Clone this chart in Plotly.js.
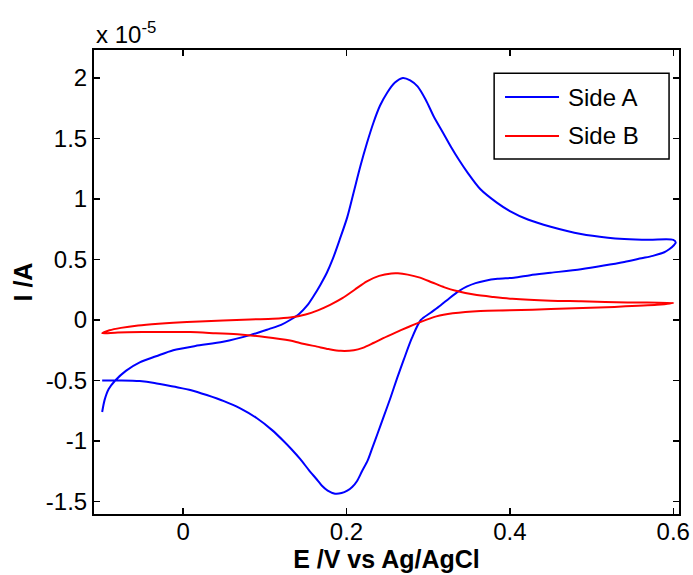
<!DOCTYPE html>
<html>
<head>
<meta charset="utf-8">
<script src="https://cdn.plot.ly/plotly-3.0.1.min.js"></script>
<style>html,body{margin:0;padding:0;background:#fff;}#chart{width:693px;height:575px;}</style>
</head>
<body>
<div id="chart"></div>
<script>
// Current values are in units of 1e-5 A
const Y_SCALE = 1e-5;

const sideA_E = [
 -0.099,-0.096,-0.091,-0.083,-0.070,-0.053,-0.033,-0.012,0.015,0.049,0.082,0.105,0.120,0.131,0.142,0.152,0.160,0.168,0.176,0.183,
 0.192,0.201,0.209,0.217,0.225,0.233,0.241,0.250,0.259,0.269,0.278,0.287,0.297,0.307,0.318,0.328,0.338,0.348,0.364,0.384,
 0.400,0.422,0.450,0.487,0.520,0.540,0.570,0.600,
 0.603,0.601,0.595,0.589,0.575,0.561,0.540,0.515,0.487,0.450,0.425,0.405,0.385,0.370,0.358,0.347,0.338,0.326,0.315,0.303,0.291,
 0.280,0.270,0.262,0.254,0.246,0.238,0.232,0.226,0.219,0.213,0.207,0.201,0.194,0.186,0.177,0.170,0.164,0.154,0.1435,0.133,
 0.123,0.109,0.090,0.070,0.050,0.029,0.010,-0.012,-0.035,-0.053,-0.075,-0.099
];
const sideA_I = [
 -0.76,-0.66,-0.57,-0.50,-0.42,-0.35,-0.30,-0.25,-0.215,-0.18,-0.125,-0.075,-0.04,0.00,0.05,0.12,0.20,0.29,0.39,0.50,
 0.67,0.85,1.06,1.27,1.46,1.63,1.77,1.88,1.96,2.00,1.98,1.93,1.82,1.68,1.55,1.43,1.32,1.22,1.08,0.97,
 0.90,0.83,0.77,0.71,0.68,0.67,0.663,0.662,
 0.64,0.62,0.585,0.56,0.53,0.51,0.48,0.45,0.42,0.39,0.37,0.35,0.34,0.325,0.305,0.275,0.24,0.18,0.12,0.06,0.00,
 -0.15,-0.33,-0.48,-0.64,-0.79,-0.94,-1.05,-1.16,-1.25,-1.33,-1.38,-1.41,-1.43,-1.435,-1.41,-1.37,-1.32,-1.24,-1.15,-1.07,
 -1.00,-0.91,-0.81,-0.73,-0.67,-0.62,-0.58,-0.55,-0.52,-0.505,-0.50,-0.50
];

const sideB_E = [
 -0.099,-0.090,-0.076,-0.055,-0.030,-0.012,0.020,0.049,0.082,0.110,0.131,0.150,0.165,0.180,0.195,0.210,0.225,0.240,0.255,0.263,
 0.275,0.290,0.305,0.320,0.335,0.356,0.380,0.403,0.450,0.487,0.544,0.600,
 0.580,0.528,0.450,0.400,0.364,0.330,0.310,0.291,0.275,0.258,0.245,0.233,0.220,0.209,0.193,0.178,0.164,0.143,0.131,0.100,
 0.070,0.040,0.009,-0.012,-0.050,-0.080,-0.099
];
const sideB_I = [
 -0.11,-0.085,-0.065,-0.045,-0.03,-0.022,-0.012,-0.005,0.005,0.01,0.02,0.045,0.08,0.125,0.18,0.25,0.32,0.365,0.385,0.386,
 0.375,0.35,0.31,0.27,0.24,0.21,0.19,0.175,0.16,0.155,0.145,0.14,
 0.125,0.108,0.09,0.08,0.075,0.055,0.03,-0.015,-0.06,-0.11,-0.15,-0.19,-0.23,-0.25,-0.255,-0.24,-0.22,-0.19,-0.17,-0.14,
 -0.12,-0.11,-0.10,-0.10,-0.10,-0.103,-0.11
];

const seriesNames = ['Side A', 'Side B'];
const seriesColors = ['#0000FF', '#FF0000'];

const xTickVals = [0, 0.2, 0.4, 0.6];
const xTickText = ['0', '0.2', '0.4', '0.6'];
const yTickVals = [-1.5, -1, -0.5, 0, 0.5, 1, 1.5, 2];
const yTickText = ['-1.5', '-1', '-0.5', '0', '0.5', '1', '1.5', '2'];

const xTitle = 'E /V vs Ag/AgCl';
const yTitle = 'I /A';
const exponentLabel = 'x 10<sup>-5</sup>';

const FONT = 'Liberation Sans, Arial, Helvetica, sans-serif';
const FS = 24;

const traces = [
  {x: sideA_E, y: sideA_I.map(v => v * Y_SCALE), mode: 'lines', name: seriesNames[0],
   line: {color: seriesColors[0], width: 2, shape: 'spline', smoothing: 0.8}, showlegend: false},
  {x: sideB_E, y: sideB_I.map(v => v * Y_SCALE), mode: 'lines', name: seriesNames[1],
   line: {color: seriesColors[1], width: 2, shape: 'spline', smoothing: 0.8}, showlegend: false}
];

// manual legend box in paper coordinates
const legX0 = 0.684, legX1 = 0.983, legY0 = 0.765, legY1 = 0.950;
const legLineX0 = 0.7026, legLineX1 = 0.7949, legTextX = 0.8068;
const legRowY = [0.8987, 0.8147];

const shapes = [
  {type: 'rect', xref: 'paper', yref: 'paper', x0: legX0, x1: legX1, y0: legY0, y1: legY1,
   line: {color: '#000', width: 1.5}, fillcolor: '#fff'}
];
const annotations = [
  {xref: 'paper', yref: 'paper', x: 0, y: 1, xanchor: 'left', yanchor: 'bottom', yshift: 0,
   text: exponentLabel, showarrow: false, font: {family: FONT, size: FS, color: '#000'}}
];
seriesNames.forEach((n, i) => {
  shapes.push({type: 'line', xref: 'paper', yref: 'paper', x0: legLineX0, x1: legLineX1,
    y0: legRowY[i], y1: legRowY[i], line: {color: seriesColors[i], width: 2}});
  annotations.push({xref: 'paper', yref: 'paper', x: legTextX, y: legRowY[i], xanchor: 'left', yanchor: 'middle',
    text: n, showarrow: false, font: {family: FONT, size: FS, color: '#000'}});
});

const axisCommon = {
  showline: true, linecolor: '#000', linewidth: 2, mirror: 'allticks',
  ticks: 'inside', ticklen: 6, tickwidth: 1.5, tickcolor: '#000',
  showgrid: false, zeroline: false,
  tickfont: {family: FONT, size: FS, color: '#000'}
};

const layout = {
  width: 693, height: 575,
  margin: {l: 94, r: 14, t: 50, b: 61, pad: 0},
  paper_bgcolor: '#fff', plot_bgcolor: '#fff',
  font: {family: FONT, size: FS, color: '#000'},
  xaxis: Object.assign({}, axisCommon, {
    range: [-0.109, 0.607], tickmode: 'array', tickvals: xTickVals, ticktext: xTickText,
    ticklabelstandoff: -5,
    title: {text: '<b>' + xTitle + '</b>', font: {family: FONT, size: 25, color: '#000'}, standoff: 0}
  }),
  yaxis: Object.assign({}, axisCommon, {
    range: [-1.603 * Y_SCALE, 2.231 * Y_SCALE], tickmode: 'array',
    tickvals: yTickVals.map(v => v * Y_SCALE), ticktext: yTickText,
    title: {text: '<b>' + yTitle + '</b>', font: {family: FONT, size: 25, color: '#000'}, standoff: 6}
  }),
  shapes: shapes,
  annotations: annotations,
  showlegend: false
};

Plotly.newPlot('chart', traces, layout, {displayModeBar: false, staticPlot: true});
</script>
</body>
</html>
